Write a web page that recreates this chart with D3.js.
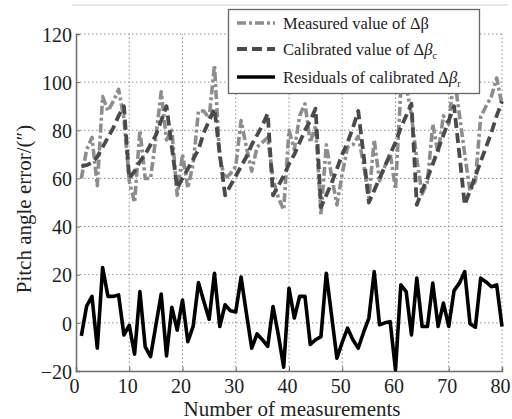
<!DOCTYPE html>
<html>
<head>
<meta charset="utf-8">
<script src="https://cdn.jsdelivr.net/npm/d3@7"></script>
<style>
  body { margin: 0; background: #fff; }
  svg { display: block; font-family: "Liberation Serif", "Times New Roman", serif; }
</style>
</head>
<body>
<div id="chart"></div>
<script>
// values, x = 1..80
const xTicks = [0, 10, 20, 30, 40, 50, 60, 70, 80];
const yTicks = [-20, 0, 20, 40, 60, 80, 100, 120];

const measured = [
  60, 72, 77, 57, 94, 88, 92, 97, 85, 59,
  50, 80, 60, 60, 77, 96, 76, 80, 53, 70,
  56, 66, 88, 88, 85, 107, 68, 60, 62, 65,
  84, 73, 63, 73, 75, 77, 60, 52, 47, 80,
  72, 86, 91, 75, 82, 45, 74, 61, 49, 62,
  73, 74, 77.5, 66, 52, 76, 59, 65, 70.5, 55.5,
  97, 99, 86, 68, 53.5, 58.5, 82.5, 70.5, 86, 82.5,
  103, 86.5, 70, 54.6, 59, 85.6, 90, 94, 101.7, 90.5
];

const calibrated = [
  65, 65.5, 66.5, 69, 73, 77, 81, 86, 90, 60,
  63, 67, 70, 74, 78, 84, 90, 73, 56, 60,
  64, 68, 72, 79, 84, 89, 70, 53, 57, 61,
  65, 69, 74, 78, 82, 87, 53, 57, 61, 66,
  70, 75, 80, 84, 89, 48, 53, 58, 64, 70,
  75, 81, 88, 70, 50, 55, 60, 65, 70, 75,
  81, 86, 91, 49, 55, 60, 66, 72, 78, 84,
  90, 70, 49, 55, 61, 67, 73, 79, 86, 92
];

const residuals = [
  -5.4, 7, 11, -10.5, 23, 11, 11, 11.6, -5, -1,
  -13, 13, -10, -14, -1, 12, -13.7, 6.5, -3, 9.5,
  -7.8, -1.5, 16.7, 9, 1.5, 20.6, -1.5, 7.5, 5, 4.5,
  19, 4, -10.5, -4.6, -7, -9.8, 6.8, -5, -18.4, 14.4,
  2, 11, 11, -9, -7, -5.7, 20.6, 3, -14.7, -8,
  -2.2, -7, -10.5, -4, 2, 21.3, -0.8, 0, 0.5, -19.5,
  15.8, 13, -5, 18.6, -1.5, -1.5, 16.5, -1.5, 8.2, -1.5,
  13.4, 16.5, 21.3, -0.4, -1.8, 18.6, 17, 15, 15.8, -1.5
];

const W = 512, H = 419;
const margin = {top: 34, right: 10, bottom: 48, left: 76};

const svg = d3.select("#chart").append("svg")
              .attr("width", W)
              .attr("height", H);

const x = d3.scaleLinear().domain([0, 80]).range([margin.left, W - margin.right]);
const y = d3.scaleLinear().domain([-20, 120]).range([H - margin.bottom, margin.top]);

// faint line at the very top of the scan
svg.append("line")
   .attr("x1", 72).attr("x2", 508)
   .attr("y1", 5).attr("y2", 5)
   .attr("stroke", "#d0d0d0")
   .attr("stroke-width", 1.2);

// dotted grid
svg.append("g")
   .selectAll("line")
   .data(xTicks.slice(1))
   .enter().append("line")
   .attr("x1", d => x(d)).attr("x2", d => x(d))
   .attr("y1", y(-20)).attr("y2", y(120))
   .attr("stroke", "#8c8c8c")
   .attr("stroke-width", 1)
   .attr("stroke-dasharray", "1.5,2.5");

svg.append("g")
   .selectAll("line")
   .data(yTicks.slice(1))
   .enter().append("line")
   .attr("x1", x(0)).attr("x2", x(80))
   .attr("y1", d => y(d)).attr("y2", d => y(d))
   .attr("stroke", "#8c8c8c")
   .attr("stroke-width", 1)
   .attr("stroke-dasharray", "1.5,2.5");

// axes
const xAxis = svg.append("g")
   .attr("transform", "translate(0," + y(-20) + ")")
   .call(d3.axisBottom(x).tickValues(xTicks).tickSize(-4).tickPadding(8));

const yAxis = svg.append("g")
   .attr("transform", "translate(" + x(0) + ",0)")
   .call(d3.axisLeft(y).tickValues(yTicks).tickSize(-4).tickPadding(4));

[xAxis, yAxis].forEach(g => {
  g.attr("font-family", "Liberation Serif").attr("font-size", 20);
  g.select(".domain").attr("stroke", "#6e6e6e").attr("stroke-width", 1.5);
  g.selectAll(".tick line").attr("stroke", "#6e6e6e").attr("stroke-width", 1);
  g.selectAll(".tick text").attr("fill", "#222");
});
xAxis.selectAll(".tick text").attr("dx", "-2");
yAxis.selectAll(".tick text").attr("dy", "0.36em");

// axis titles
svg.append("text")
   .attr("x", 292)
   .attr("y", 415.5)
   .attr("text-anchor", "middle")
   .attr("fill", "#222")
   .style("font-size", "21px")
   .text("Number of measurements");

svg.append("text")
   .attr("transform", "translate(31,209) rotate(-90)")
   .attr("text-anchor", "middle")
   .attr("fill", "#222")
   .style("font-size", "21px")
   .text("Pitch angle error/(\u2033)");

// series
const line = d3.line()
               .x((d, i) => x(i + 1))
               .y(d => y(d));

const series = [
  {name: "measured", values: measured, color: "#8d8d8d", width: 3.6, dash: "9,3,3,3"},
  {name: "calibrated", values: calibrated, color: "#4a4a4a", width: 3.8, dash: "10,5"},
  {name: "residuals", values: residuals, color: "#000", width: 3.6, dash: null}
];

svg.append("g")
   .selectAll("path")
   .data(series)
   .enter().append("path")
   .attr("d", d => line(d.values))
   .attr("fill", "none")
   .attr("stroke", d => d.color)
   .attr("stroke-width", d => d.width)
   .attr("stroke-linejoin", "round")
   .attr("stroke-dasharray", d => d.dash);

// legend
const legend = svg.append("g");
legend.append("rect")
      .attr("x", 228.5).attr("y", 9.5)
      .attr("width", 251).attr("height", 84)
      .attr("fill", "#fff")
      .attr("stroke", "#666")
      .attr("stroke-width", 1.3);

const legendRows = legend.selectAll("g.row")
      .data(series)
      .enter().append("g")
      .attr("class", "row")
      .attr("transform", (d, i) => "translate(0," + [23, 49, 77][i] + ")");

legendRows.append("line")
      .attr("x1", 237).attr("x2", 275)
      .attr("stroke", d => d.color)
      .attr("stroke-width", d => d.width)
      .attr("stroke-dasharray", d => d.dash);

const labels = legendRows.append("text")
      .attr("x", 283)
      .attr("y", 5.5)
      .attr("fill", "#222")
      .style("font-size", "16.5px");

labels.each(function(d, i) {
  const t = d3.select(this);
  if (i === 0) {
    t.append("tspan").text("Measured value of \u0394\u03b2");
  } else {
    t.append("tspan").text(i === 1 ? "Calibrated value of \u0394" : "Residuals of calibrated \u0394");
    t.append("tspan").style("font-style", "italic").text("\u03b2");
    t.append("tspan").attr("dy", 4).style("font-size", "10px").text(i === 1 ? "c" : "r");
  }
});
</script>
</body>
</html>
